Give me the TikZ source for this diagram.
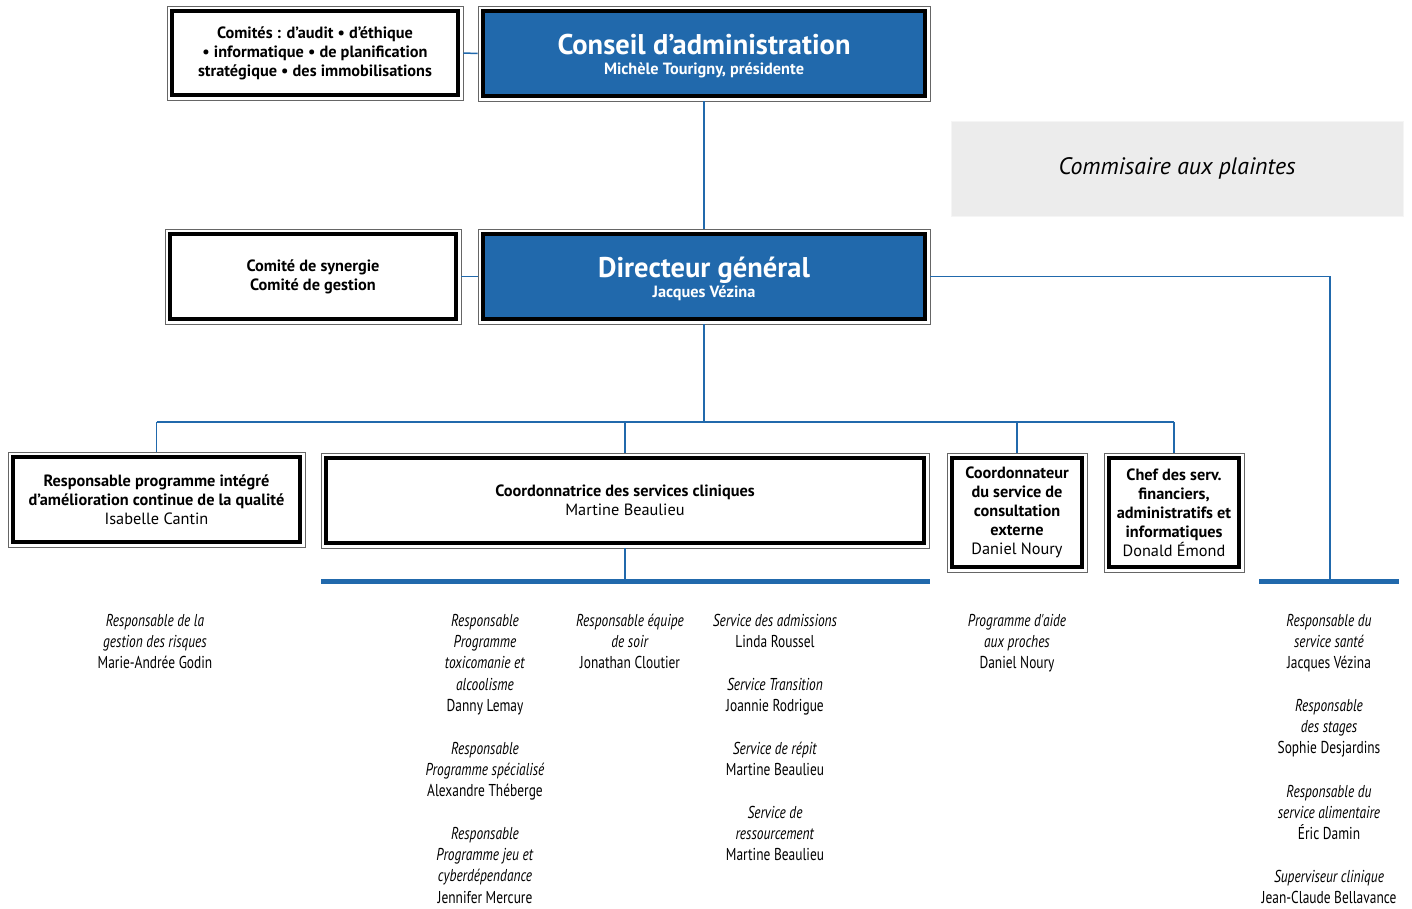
\documentclass[tikz,border=0pt]{standalone}
\usepackage{fontspec}
\setmainfont{PT Sans}
\newfontfamily\condfont[FakeStretch=0.78]{PT Sans}
\definecolor{cblue}{RGB}{33,105,172}
\definecolor{lgray}{RGB}{236,236,236}
\begin{document}
\begin{tikzpicture}[x=1pt,y=-1pt,
  dbox/.style={draw=black!60, line width=0.7pt, inner sep=0pt, align=center,
    font=\fontsize{16.3}{18.9}\selectfont\bfseries,
    path picture={\draw[line width=3.5pt, draw=black, fill=#1]
      ([shift={(5,5)}]path picture bounding box.north west) rectangle
      ([shift={(-5,-5)}]path picture bounding box.south east);}},
  dbox/.default=white,
  conn/.style={draw=cblue, line width=1.5pt},
  bar/.style={draw=cblue, line width=5pt},
  lst/.style={font=\condfont\fontsize{17.2}{21.4}\selectfont, align=center, inner sep=0pt, anchor=north}]
\useasboundingbox (0,0) rectangle (1412,908);

% boxes
\node[dbox, minimum width=296pt, minimum height=94pt] (comites) at (315,53)
  {Comités : d’audit • d’éthique\\• informatique • de planification\\stratégique • des immobilisations};
\node[dbox=cblue, text=white, minimum width=452pt, minimum height=95pt] (conseil) at (704,53.5)
  {\rule{0pt}{26pt}{\fontsize{28.5}{28}\selectfont Conseil d’administration}\\[1pt]Michèle Tourigny, présidente};
\node[draw=white!96!black, fill=lgray, line width=1pt, minimum width=452pt, minimum height=95pt,
  font=\fontsize{23.8}{26}\selectfont\itshape] (plaintes) at (1177,168.5) {Commisaire aux plaintes};
\node[dbox, minimum width=296pt, minimum height=95pt] (synergie) at (313,276.5)
  {Comité de synergie\\Comité de gestion};
\node[dbox=cblue, text=white, minimum width=452pt, minimum height=95pt] (dg) at (704,276.5)
  {\rule{0pt}{26pt}{\fontsize{28.5}{28}\selectfont Directeur général}\\[1pt]Jacques Vézina};
\node[dbox, minimum width=297pt, minimum height=95pt] (qualite) at (156.5,499.5)
  {Responsable programme intégré\\d’amélioration continue de la qualité\\\textmd{Isabelle Cantin}};
\node[dbox, minimum width=608pt, minimum height=95pt] (coordo) at (625,500.5)
  {Coordonnatrice des services cliniques\\\textmd{Martine Beaulieu}};
\node[dbox, minimum width=140pt, minimum height=119pt] (consult) at (1017,512.5)
  {Coordonnateur\\du service de\\consultation\\externe\\\textmd{Daniel Noury}};
\node[dbox, minimum width=140pt, minimum height=119pt] (chef) at (1174,512.5)
  {Chef des serv.\\financiers,\\administratifs et\\informatiques\\\textmd{Donald Émond}};

% connectors
\coordinate (bus) at (704,422);
\coordinate (barCL) at (321,581);
\coordinate (barCR) at (930,581);
\coordinate (barRL) at (1259,581);
\coordinate (barRR) at (1399,581);
\coordinate (sante) at (1330,581);
\draw[conn] (comites.east) -- (conseil.west);
\draw[conn] (synergie.east) -- (dg.west);
\draw[conn] (conseil.south) -- (dg.north);
\draw[conn] (dg.south) -- (bus);
\draw[conn] (bus -| qualite.north) -- (bus -| chef.north);
\draw[conn] (bus -| qualite.north) -- (qualite.north);
\draw[conn] (bus -| coordo.north) -- (coordo.north);
\draw[conn] (bus -| consult.north) -- (consult.north);
\draw[conn] (bus -| chef.north) -- (chef.north);
\draw[conn] (coordo.south) -- (coordo.south |- barCL);
\draw[conn] (dg.east) -| (sante);
\draw[bar] (barCL) -- (barCR);
\draw[bar] (barRL) -- (barRR);

% lists
\node[lst] (risques) at (155,611) {\strut\textit{Responsable de la}\\\textit{gestion des risques}\\Marie-Andrée Godin};
\node[lst] (toxico) at (485,611) {\strut\textit{Responsable}\\\textit{Programme}\\\textit{toxicomanie et}\\\textit{alcoolisme}\\Danny Lemay};
\node[lst] (specialise) at (485,739) {\strut\textit{Responsable}\\\textit{Programme spécialisé}\\Alexandre Théberge};
\node[lst] (jeu) at (485,824) {\strut\textit{Responsable}\\\textit{Programme jeu et}\\\textit{cyberdépendance}\\Jennifer Mercure};
\node[lst] (soir) at (630,611) {\strut\textit{Responsable équipe}\\\textit{de soir}\\Jonathan Cloutier};
\node[lst] (admissions) at (775,611) {\strut\textit{Service des admissions}\\Linda Roussel};
\node[lst] (transition) at (775,675) {\strut\textit{Service Transition}\\Joannie Rodrigue};
\node[lst] (repit) at (775,739) {\strut\textit{Service de répit}\\Martine Beaulieu};
\node[lst] (ressourcement) at (775,803) {\strut\textit{Service de}\\\textit{ressourcement}\\Martine Beaulieu};
\node[lst] (proches) at (1017,611) {\strut\textit{Programme d'aide}\\\textit{aux proches}\\Daniel Noury};
\node[lst] (sante) at (1329,611) {\strut\textit{Responsable du}\\\textit{service santé}\\Jacques Vézina};
\node[lst] (stages) at (1329,696) {\strut\textit{Responsable}\\\textit{des stages}\\Sophie Desjardins};
\node[lst] (alimentaire) at (1329,782) {\strut\textit{Responsable du}\\\textit{service alimentaire}\\Éric Damin};
\node[lst] (superviseur) at (1329,867) {\strut\textit{Superviseur clinique}\\Jean-Claude Bellavance};
\end{tikzpicture}
\end{document}
